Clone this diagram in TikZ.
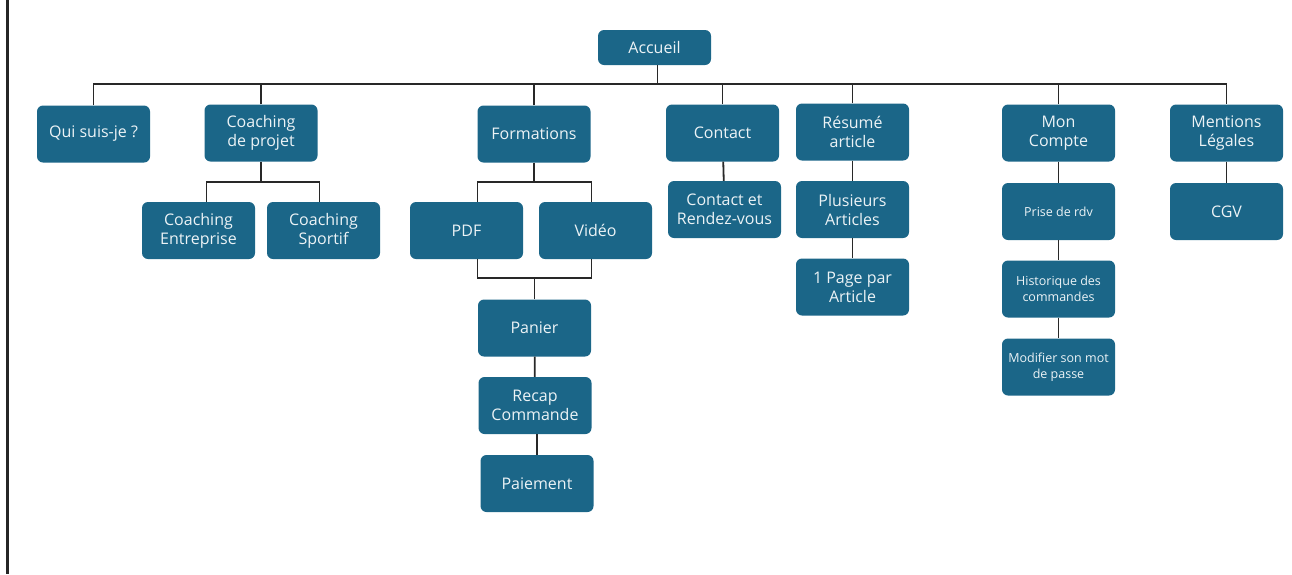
\documentclass[tikz,border=0pt]{standalone}
\usepackage{fontspec}
\setmainfont{Open Sans}
\usetikzlibrary{arrows}
\definecolor{sitebox}{RGB}{27,102,136}
\definecolor{sitetext}{RGB}{236,243,246}
\definecolor{siteline}{RGB}{40,40,40}

\begin{document}
\begin{tikzpicture}[x=1pt,y=-1pt]
\tikzstyle{page}=[draw=none, fill=sitebox, text=sitetext, rounded corners=6pt,
  minimum width=113pt, minimum height=57pt, inner sep=1pt, align=center,
  font=\fontsize{16}{19}\selectfont]
\tikzstyle{small page}=[page, font=\fontsize{12.5}{15.5}\selectfont]
\tikzstyle{link}=[draw=siteline, line width=1.8pt]
\useasboundingbox (0,0) rectangle (1292,574);
\draw[line width=3pt, draw=black!85] (7.5,0) -- (7.5,574);
% top
\draw (654.5,47.5) node (home) [page, minimum height=35pt] {Accueil};
% first level
\draw (93.5,134) node (qui) [page] {Qui suis-je ?};
\draw (261,133) node (coach) [page] {Coaching\\de projet};
\draw (534,134) node (form) [page] {Formations};
\draw (722.5,133) node (contact) [page] {Contact};
\draw (852.5,132) node (resume) [page] {Résumé\\article};
\draw (1058.5,133) node (compte) [page] {Mon\\Compte};
\draw (1226.5,133) node (legal) [page] {Mentions\\Légales};
% second level
\draw (198.5,230.5) node (entr) [page] {Coaching\\Entreprise};
\draw (323.5,230.5) node (sport) [page] {Coaching\\Sportif};
\draw (466.5,230.5) node (pdf) [page] {PDF};
\draw (595.5,230.5) node (video) [page] {Vidéo};
\draw (724.5,209.5) node (rdv) [page] {Contact et\\Rendez-vous};
\draw (852.5,209.5) node (plus) [page] {Plusieurs\\Articles};
\draw (1058.5,211.5) node (prise) [small page] {Prise de rdv};
\draw (1226.5,211.5) node (cgv) [page] {CGV};
% lower levels
\draw (534.5,328) node (panier) [page] {Panier};
\draw (535,405.5) node (recap) [page] {Recap\\Commande};
\draw (537,483.5) node (paie) [page] {Paiement};
\draw (852.5,287) node (unepage) [page] {1 Page par\\Article};
\draw (1058.5,289) node (histo) [small page] {Historique des\\commandes};
\draw (1058.5,367) node (mdp) [small page] {Modifier son mot\\de passe};
% links
\coordinate (bus) at (0,84);
\draw[link] ([xshift=3pt]home.south) -- ([xshift=3pt]home.south |- bus);
\draw[link] (qui.north) |- (bus -| legal.north) -- (legal.north);
\draw[link] (coach.north) -- (coach.north |- bus);
\draw[link] (form.north) -- (form.north |- bus);
\draw[link] (contact.north) -- (contact.north |- bus);
\draw[link] (resume.north) -- (resume.north |- bus);
\draw[link] (compte.north) -- (compte.north |- bus);
\draw[link] (coach.south) -- ++(0,20) coordinate (cj);
\draw[link] ([xshift=8pt]entr.north) |- (cj) -| ([xshift=-4pt]sport.north);
\draw[link] (form.south) -- ++(0,19) coordinate (fj);
\draw[link] ([xshift=11pt]pdf.north) |- (fj) -| ([xshift=-4pt]video.north);
\draw[link] ([xshift=11pt]pdf.south) |- (panier.north |- 0,278) -| ([xshift=-4pt]video.south);
\draw[link] (panier.north) -- (panier.north |- 0,278);
\draw[link] (panier) -- (recap);
\draw[link] ([xshift=2pt]recap.south) -- ([xshift=0pt]paie.north);
\draw[link] (contact) -- (rdv);
\draw[link] (resume) -- (plus);
\draw[link] (plus) -- (unepage);
\draw[link] (compte) -- (prise);
\draw[link] (prise) -- (histo);
\draw[link] (histo) -- (mdp);
\draw[link] (legal) -- (cgv);
\end{tikzpicture}
\end{document}
